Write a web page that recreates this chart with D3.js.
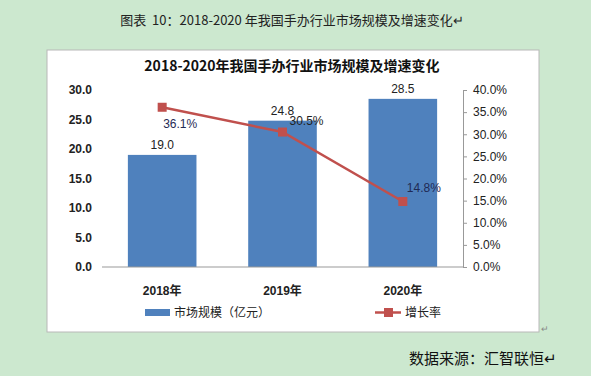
<!DOCTYPE html>
<html>
<head>
<meta charset="utf-8">
<script src="https://cdn.jsdelivr.net/npm/d3@7"></script>
<style>
body{margin:0;background:#cce8cf;}
svg{display:block;font-family:"Liberation Sans","Noto Sans CJK SC",sans-serif;}
</style>
</head>
<body>
<svg id="chart" width="591" height="376"></svg>
<script>
// data
const years = ["2018年", "2019年", "2020年"];
const marketSize = [19.0, 24.8, 28.5];
const growthRate = [0.361, 0.305, 0.148];
const leftTicks = [0, 5, 10, 15, 20, 25, 30];
const rightTicks = [0, 0.05, 0.1, 0.15, 0.2, 0.25, 0.3, 0.35, 0.4];

const svg = d3.select("#chart");
const cjk = '"Noto Sans CJK SC",sans-serif';

// outer caption
svg.append("text")
   .attr("x", 292).attr("y", 25)
   .attr("text-anchor", "middle")
   .style("font-family", cjk)
   .style("font-size", "13px")
   .style("white-space", "pre")
   .attr("fill", "#222")
   .text("图表  10：2018-2020 年我国手办行业市场规模及增速变化↵");

// white chart box
svg.append("rect")
   .attr("x", 47).attr("y", 50)
   .attr("width", 492).attr("height", 282)
   .attr("fill", "#fff")
   .attr("stroke", "#b8b8b8");

svg.append("text")
   .attr("x", 292).attr("y", 71)
   .attr("text-anchor", "middle")
   .style("font-family", cjk)
   .style("font-size", "14px")
   .style("font-weight", "bold")
   .attr("fill", "#111")
   .text("2018-2020年我国手办行业市场规模及增速变化");

const plotL = 102, plotR = 463, plotT = 90, plotB = 267;

const x = d3.scaleBand().domain(years).range([plotL, plotR]).paddingInner(0.43).paddingOuter(0.215);
const yL = d3.scaleLinear().domain([0, 30]).range([plotB, plotT]);
const yR = d3.scaleLinear().domain([0, 0.4]).range([plotB, plotT]);

// left axis (labels only)
const gl = svg.append("g").attr("transform", `translate(${plotL},0)`)
   .call(d3.axisLeft(yL).tickValues(leftTicks).tickSize(0).tickPadding(10).tickFormat(d3.format(".1f")));
gl.select(".domain").remove();
gl.selectAll("text").style("font-size", "12px").style("font-weight", "bold").attr("fill", "#222");

// right axis
const gr = svg.append("g").attr("transform", `translate(${plotR},0)`)
   .call(d3.axisRight(yR).tickValues(rightTicks).tickSize(4).tickPadding(6).tickFormat(d3.format(".1%")));
gr.select(".domain").attr("stroke", "#999");
gr.selectAll(".tick line").attr("stroke", "#999");
gr.selectAll("text").style("font-size", "12px").attr("fill", "#222");

// bars
svg.selectAll("rect.bar")
   .data(marketSize)
   .enter().append("rect")
   .attr("class", "bar")
   .attr("x", (d, i) => x(years[i]))
   .attr("y", d => yL(d))
   .attr("width", x.bandwidth())
   .attr("height", d => plotB - yL(d))
   .attr("fill", "#4f81bd");

// baseline
svg.append("line")
   .attr("x1", plotL).attr("x2", plotR)
   .attr("y1", plotB).attr("y2", plotB)
   .attr("stroke", "#999");

// bar labels
svg.selectAll("text.blab")
   .data(marketSize)
   .enter().append("text")
   .attr("class", "blab")
   .attr("x", (d, i) => x(years[i]) + x.bandwidth() / 2)
   .attr("y", d => yL(d) - 6)
   .attr("text-anchor", "middle")
   .style("font-size", "12px")
   .attr("fill", "#222")
   .text(d => d.toFixed(1));

// growth line
const cx = i => x(years[i]) + x.bandwidth() / 2;
const line = d3.line().x((d, i) => cx(i)).y(d => yR(d));
svg.append("path")
   .datum(growthRate)
   .attr("d", line)
   .attr("fill", "none")
   .attr("stroke", "#c0504d")
   .attr("stroke-width", 2.5);

svg.selectAll("rect.mk")
   .data(growthRate)
   .enter().append("rect")
   .attr("class", "mk")
   .attr("x", (d, i) => cx(i) - 4.5)
   .attr("y", d => yR(d) - 4.5)
   .attr("width", 9).attr("height", 9)
   .attr("fill", "#c0504d");

const labelOff = [[18, 21], [24, -7], [21, -10]];
svg.selectAll("text.glab")
   .data(growthRate)
   .enter().append("text")
   .attr("class", "glab")
   .attr("x", (d, i) => cx(i) + labelOff[i][0])
   .attr("y", (d, i) => yR(d) + labelOff[i][1])
   .attr("text-anchor", "middle")
   .style("font-size", "12px")
   .attr("fill", (d, i) => i === 1 ? "#222" : "#1f2a55")
   .text(d => d3.format(".1%")(d));

// x labels
svg.selectAll("text.xl")
   .data(years)
   .enter().append("text")
   .attr("class", "xl")
   .attr("x", d => x(d) + x.bandwidth() / 2)
   .attr("y", 295)
   .attr("text-anchor", "middle")
   .style("font-size", "12px")
   .style("font-weight", "bold")
   .attr("fill", "#222")
   .text(d => d);

// legend
svg.append("rect").attr("x", 145).attr("y", 309).attr("width", 25).attr("height", 7).attr("fill", "#4f81bd");
svg.append("text").attr("x", 174).attr("y", 317)
   .style("font-family", cjk).style("font-size", "12px").attr("fill", "#222")
   .text("市场规模（亿元）");
svg.append("line").attr("x1", 375).attr("x2", 401).attr("y1", 312.5).attr("y2", 312.5)
   .attr("stroke", "#c0504d").attr("stroke-width", 2.5);
svg.append("rect").attr("x", 384).attr("y", 308).attr("width", 9).attr("height", 9).attr("fill", "#c0504d");
svg.append("text").attr("x", 405).attr("y", 317)
   .style("font-family", cjk).style("font-size", "12px").attr("fill", "#222")
   .text("增长率");

svg.append("text").attr("x", 541).attr("y", 332)
   .style("font-size", "9px").attr("fill", "#888").text("↵");

// source
svg.append("text")
   .attr("x", 409).attr("y", 364)
   .style("font-family", cjk)
   .style("font-size", "15px")
   .attr("fill", "#111")
   .text("数据来源：汇智联恒↵");
</script>
</body>
</html>
